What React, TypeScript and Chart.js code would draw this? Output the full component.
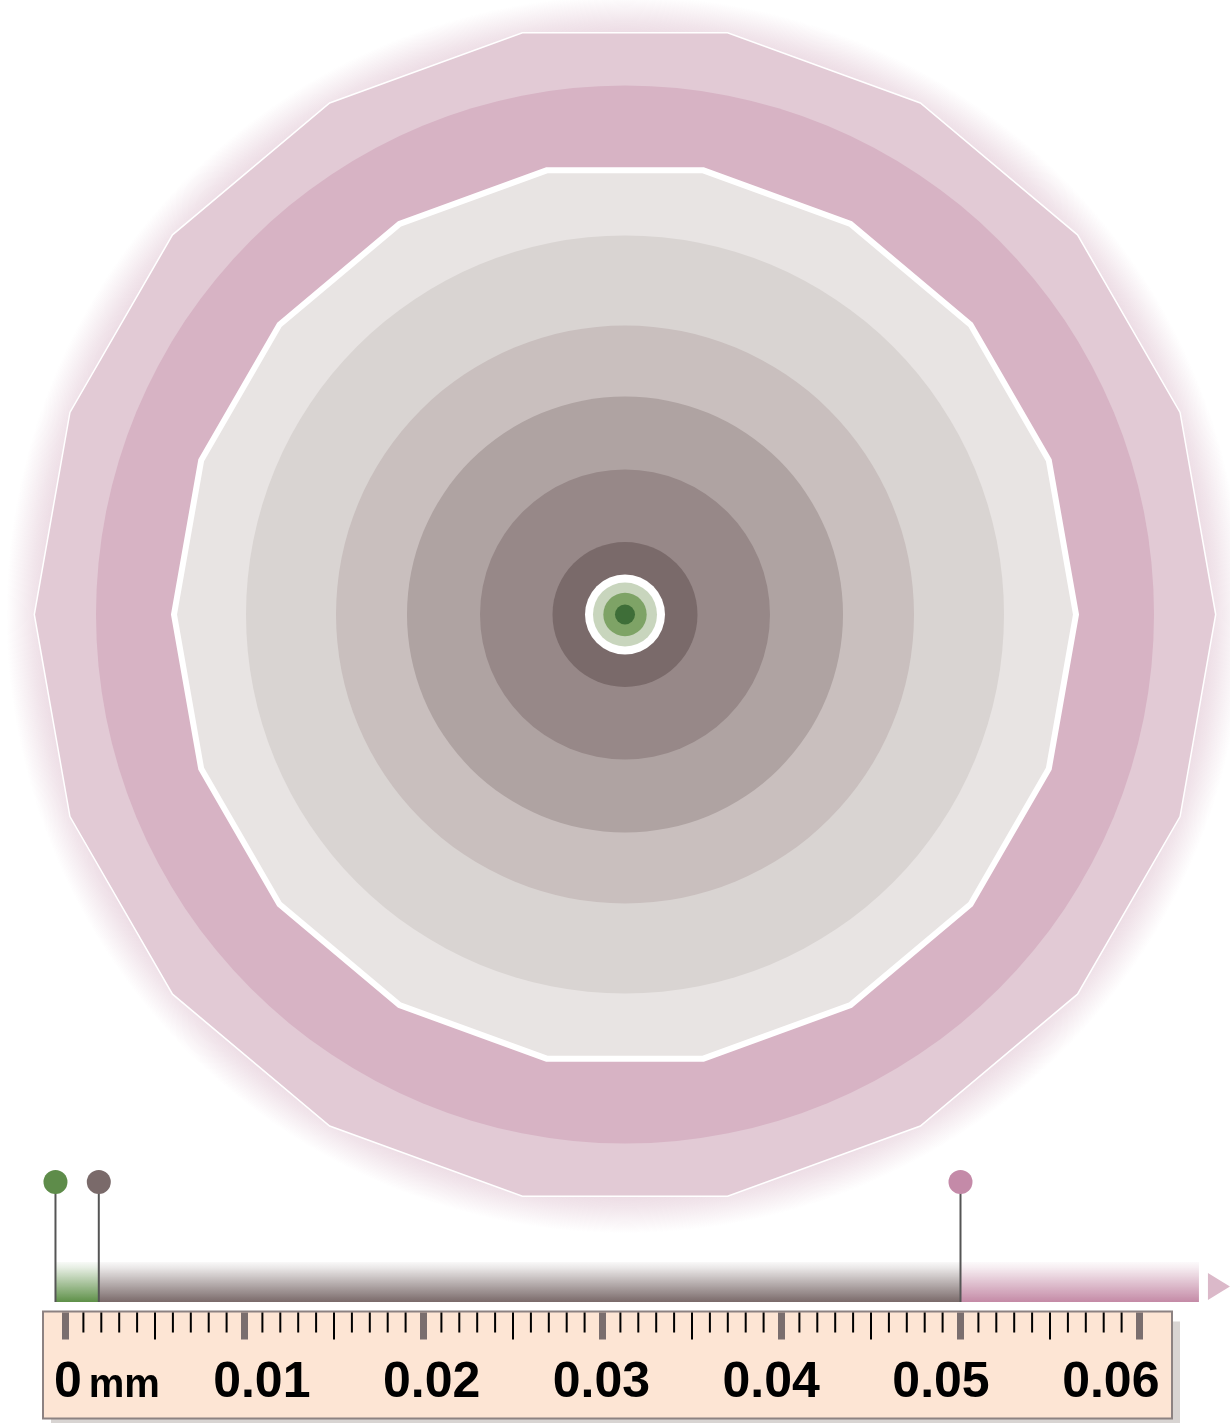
import { useEffect, useRef } from 'react';
import { Chart, registerables } from 'chart.js';

Chart.register(...registerables);

const W = 1230;
const H = 1423;

// ---------- data ----------
// concentric layers, outermost first (radii in mm, read against the ruler scale)
const RING_RADII_MM = [0.033, 0.029553, 0.025196, 0.021173, 0.016145, 0.012179, 0.0081, 0.00405, 0.002235, 0.001788, 0.001212, 0.000559];
const RING_SHAPES = ['polygon', 'circle', 'polygon', 'circle', 'circle', 'circle', 'circle', 'circle', 'circle', 'circle', 'circle', 'circle'];
const RING_CENTER_MM = 0.031257;
const POLYGON_SIDES = 18;

// scale bar pins (mm)
const PIN_VALUES_MM = [-0.00056, 0.00186, 0.05];
const BAR_END_MM = 0.06332;

// ruler
const RULER_MAJOR_MM = [0, 0.01, 0.02, 0.03, 0.04, 0.05, 0.06];
const RULER_MINOR_STEP_MM = 0.001;
const TICK_LABELS = ['0', '0.01', '0.02', '0.03', '0.04', '0.05', '0.06'];
const TICK_LABEL_VALUES = [0, 0.01, 0.02, 0.03, 0.04, 0.05, 0.06];
const UNIT_LABEL = 'mm';

// ---------- styles ----------
const RING_COLORS = ['#e2cad5', '#d7b3c4', '#e8e4e3', '#d9d4d2', '#c9bfbe', '#afa3a2', '#978888', '#7a6a6a', '#ffffff', '#c8d5bd', '#7ea366', '#3e6e38'];
const RING_STROKES = [1.5, 0, 6, 0, 0, 0, 0, 0, 0, 0, 0, 0];
const PIN_COLORS = ['#5e8c4a', '#7a6a6a', '#c48aa8'];
const BAR_COLORS = [[94, 144, 72], [122, 106, 106], [196, 138, 166]];

// ---------- layout rows (canvas rows) ----------
const CENTER_ROW = 614.5;
const PIN_ROW = 1182;
const BAR_TOP = 1262;
const BAR_BOTTOM = 1302;
const RULER_TOP = 1311.5;
const RULER_BOTTOM = 1418.5;
const LABEL_BASELINE = 1397;

// x scale: 0 mm at 65.5px, 179px per 0.01 mm
const PX_PER_MM = 17900;
const X_ZERO_PX = 65.5;
const X_MIN = -X_ZERO_PX / PX_PER_MM;
const X_MAX = (W - X_ZERO_PX) / PX_PER_MM;
// label scale (labels are set on a slightly tighter spacing than the ticks)
const LABEL_PX_PER_MM = 16980;
const LABEL_ZERO_PX = 92;
const XL_MIN = -LABEL_ZERO_PX / LABEL_PX_PER_MM;
const XL_MAX = (W - LABEL_ZERO_PX) / LABEL_PX_PER_MM;

function polygonPath(ctx: CanvasRenderingContext2D, cx: number, cy: number, r: number, n: number) {
  ctx.beginPath();
  for (let i = 0; i < n; i++) {
    const a = (i * 2 * Math.PI) / n;
    const x = cx + r * Math.cos(a);
    const y = cy - r * Math.sin(a);
    if (i === 0) ctx.moveTo(x, y);
    else ctx.lineTo(x, y);
  }
  ctx.closePath();
}

const posterPlugin = {
  id: 'poster',
  beforeDatasetsDraw(chart: any) {
    const ctx: CanvasRenderingContext2D = chart.ctx;
    const xs = chart.scales.x;
    const ys = chart.scales.y;
    const px = (v: number) => xs.getPixelForValue(v);
    const len = (v: number) => xs.getPixelForValue(v) - xs.getPixelForValue(0);
    const cx = px(RING_CENTER_MM);
    const cy = ys.getPixelForValue(CENTER_ROW);

    ctx.save();
    // glow around the outer layer
    const rOuter = len(RING_RADII_MM[0]);
    const g = ctx.createRadialGradient(cx, cy, rOuter - 30, cx, cy, rOuter + 28);
    g.addColorStop(0, 'rgba(210,170,190,0.6)');
    g.addColorStop(0.55, 'rgba(210,170,190,0.3)');
    g.addColorStop(1, 'rgba(210,170,190,0)');
    ctx.fillStyle = g;
    ctx.beginPath();
    ctx.arc(cx, cy, rOuter + 28, 0, Math.PI * 2);
    ctx.fill();

    RING_RADII_MM.forEach((rv, i) => {
      const r = len(rv);
      if (RING_SHAPES[i] === 'polygon') {
        polygonPath(ctx, cx, cy, r, POLYGON_SIDES);
      } else {
        ctx.beginPath();
        ctx.arc(cx, cy, r, 0, Math.PI * 2);
      }
      ctx.fillStyle = RING_COLORS[i];
      ctx.fill();
      if (RING_STROKES[i] > 0) {
        ctx.strokeStyle = '#ffffff';
        ctx.lineWidth = RING_STROKES[i];
        ctx.lineJoin = 'miter';
        ctx.stroke();
      }
    });

    // scale bar
    const top = ys.getPixelForValue(BAR_TOP);
    const bottom = ys.getPixelForValue(BAR_BOTTOM);
    const stops = [...PIN_VALUES_MM, BAR_END_MM];
    for (let i = 0; i < stops.length - 1; i++) {
      const [r, gg, b] = BAR_COLORS[i];
      const grad = ctx.createLinearGradient(0, top, 0, bottom);
      grad.addColorStop(0, `rgba(${r},${gg},${b},0.04)`);
      grad.addColorStop(0.15, `rgba(${r},${gg},${b},0.16)`);
      grad.addColorStop(1, `rgba(${r},${gg},${b},1)`);
      ctx.fillStyle = grad;
      ctx.fillRect(px(stops[i]), top, px(stops[i + 1]) - px(stops[i]), bottom - top);
    }
    // arrow head
    const aStart = px(BAR_END_MM) + 9;
    ctx.fillStyle = '#dbb9c9';
    ctx.beginPath();
    ctx.moveTo(aStart, top + 11);
    ctx.lineTo(aStart + 22, (top + bottom) / 2 + 4.5);
    ctx.lineTo(aStart, bottom - 2);
    ctx.closePath();
    ctx.fill();

    // pin stems
    const pinY = ys.getPixelForValue(PIN_ROW);
    ctx.strokeStyle = '#555555';
    ctx.lineWidth = 2;
    PIN_VALUES_MM.forEach((v) => {
      ctx.beginPath();
      ctx.moveTo(px(v), pinY);
      ctx.lineTo(px(v), bottom);
      ctx.stroke();
    });
    ctx.restore();
  },
  afterDatasetsDraw(chart: any) {
    const ctx: CanvasRenderingContext2D = chart.ctx;
    const xs = chart.scales.x;
    const xl = chart.scales.xLabel;
    const ys = chart.scales.y;
    const px = (v: number) => xs.getPixelForValue(v);
    const rTop = ys.getPixelForValue(RULER_TOP);
    const rBottom = ys.getPixelForValue(RULER_BOTTOM);
    const first = RULER_MAJOR_MM[0];
    const last = RULER_MAJOR_MM[RULER_MAJOR_MM.length - 1];
    const left = px(first) - 22.5;
    const right = px(last) + 32.5;

    ctx.save();
    // shadow
    ctx.fillStyle = '#d8d4d2';
    ctx.fillRect(left + 8, rTop + 10, right - left, rBottom - rTop + 4);
    // body
    ctx.fillStyle = '#fde5d4';
    ctx.fillRect(left, rTop, right - left, rBottom - rTop);
    ctx.strokeStyle = '#8c8282';
    ctx.lineWidth = 2;
    ctx.strokeRect(left, rTop, right - left, rBottom - rTop);

    // ticks
    const count = Math.round((last - first) / RULER_MINOR_STEP_MM);
    for (let i = 0; i <= count; i++) {
      const v = first + i * RULER_MINOR_STEP_MM;
      const x = px(v);
      if (i % 10 === 0) {
        ctx.fillStyle = '#7a6e6e';
        ctx.fillRect(x - 3.5, rTop + 1, 7, 27);
      } else if (i % 5 === 0) {
        ctx.fillStyle = '#000000';
        ctx.fillRect(x - 1, rTop + 1, 2, 27);
      } else {
        ctx.fillStyle = '#000000';
        ctx.fillRect(x - 1, rTop + 1, 2, 20);
      }
    }

    // labels
    const baseY = ys.getPixelForValue(LABEL_BASELINE);
    ctx.fillStyle = '#000000';
    ctx.textBaseline = 'alphabetic';
    ctx.font = 'bold 50px "Liberation Sans", Arial, sans-serif';
    TICK_LABELS.forEach((t, i) => {
      if (i === 0) {
        ctx.textAlign = 'left';
        ctx.fillText(t, left + 11, baseY);
        const w = ctx.measureText(t).width;
        ctx.font = 'bold 40px "Liberation Sans", Arial, sans-serif';
        ctx.fillText(UNIT_LABEL, left + 11 + w + 7, baseY);
        ctx.font = 'bold 50px "Liberation Sans", Arial, sans-serif';
      } else {
        ctx.textAlign = 'center';
        ctx.fillText(t, xl.getPixelForValue(TICK_LABEL_VALUES[i]), baseY);
      }
    });
    ctx.restore();
  },
};

export default function App() {
  const ref = useRef<HTMLCanvasElement | null>(null);
  useEffect(() => {
    document.body.style.margin = '0';
    const canvas = ref.current;
    if (!canvas) return;
    const chart = new Chart(canvas, {
      type: 'scatter',
      data: {
        datasets: [
          {
            label: 'pins',
            data: PIN_VALUES_MM.map((v) => ({ x: v, y: PIN_ROW })),
            pointRadius: 12,
            pointHoverRadius: 12,
            pointBackgroundColor: PIN_COLORS,
            pointBorderWidth: 0,
            borderWidth: 0,
          },
        ],
      },
      options: {
        responsive: false,
        animation: false,
        devicePixelRatio: 1,
        events: [],
        layout: { padding: 0, autoPadding: false },
        plugins: { legend: { display: false }, tooltip: { enabled: false } },
        scales: {
          x: { type: 'linear', display: false, min: X_MIN, max: X_MAX },
          xLabel: { type: 'linear', axis: 'x', display: false, min: XL_MIN, max: XL_MAX },
          y: { type: 'linear', display: false, min: 0, max: H, reverse: true },
        },
      } as any,
      plugins: [posterPlugin],
    });
    return () => chart.destroy();
  }, []);
  return <canvas ref={ref} width={W} height={H} style={{ display: 'block', width: W, height: H }} />;
}
